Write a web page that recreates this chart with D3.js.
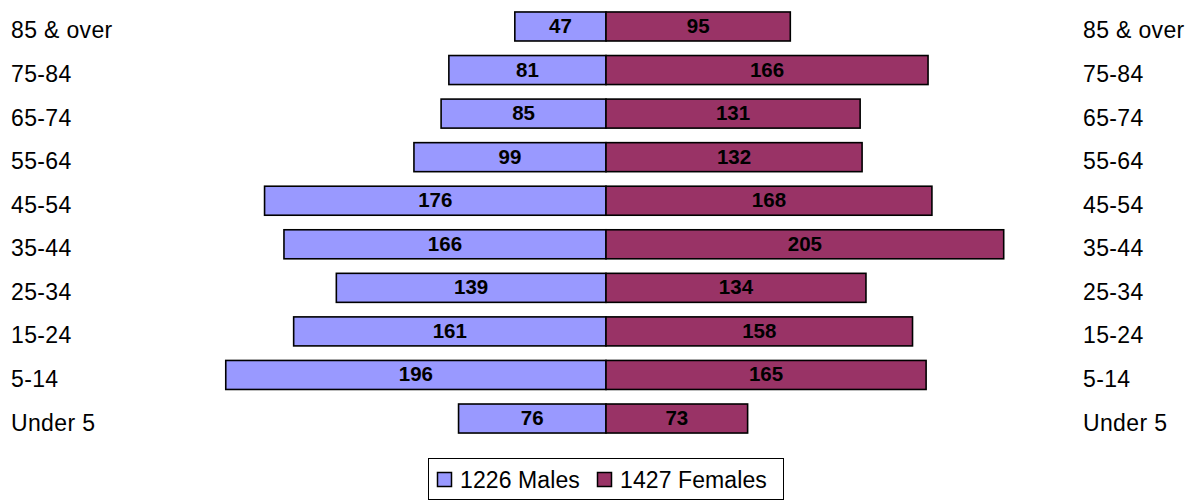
<!DOCTYPE html>
<html>
<head>
<meta charset="utf-8">
<script src="https://cdn.jsdelivr.net/npm/d3@7"></script>
<style>
  body { margin: 0; background: #fff; }
  svg { display: block; font-family: "Liberation Sans", Arial, sans-serif; }
</style>
</head>
<body>
<div id="chart"></div>
<script>

// age groups, top to bottom
var ageGroups = ["85 & over", "75-84", "65-74", "55-64", "45-54", "35-44", "25-34", "15-24", "5-14", "Under 5"]
var males = [47, 81, 85, 99, 176, 166, 139, 161, 196, 76]
var females = [95, 166, 131, 132, 168, 205, 134, 158, 165, 73]
var legendLabels = ["1226 Males", "1427 Females"]

var maleColour = "#9999ff"
var femaleColour = "#993366"

var width = 1190
var height = 501

var svg = d3.select("#chart").append("svg")
    .attr("width", width)
    .attr("height", height)

var x = d3.scaleLinear()
    .domain([-200, 200])
    .range([606 - 388, 606 + 388])

var y = d3.scaleBand()
    .domain(ageGroups)
    .range([4.7, 440.3])
    .paddingInner(0.334)
    .paddingOuter(0.167)

var rows = ageGroups.map(function(d, i) {
    return { group: d, male: males[i], female: females[i] }
})

var bars = svg.append("g")

// male bars go left of zero
bars.selectAll("rect.male")
    .data(rows)
    .enter()
    .append("rect")
    .attr("class", "male")
    .attr("x", function(d) { return x(-d.male) })
    .attr("y", function(d) { return y(d.group) })
    .attr("width", function(d) { return x(0) - x(-d.male) })
    .attr("height", y.bandwidth())
    .style("fill", maleColour)
    .style("stroke", "#000")
    .style("stroke-width", "1.6")

bars.selectAll("rect.female")
    .data(rows)
    .enter()
    .append("rect")
    .attr("class", "female")
    .attr("x", x(0))
    .attr("y", function(d) { return y(d.group) })
    .attr("width", function(d) { return x(d.female) - x(0) })
    .attr("height", y.bandwidth())
    .style("fill", femaleColour)
    .style("stroke", "#000")
    .style("stroke-width", "1.6")

// value labels
bars.selectAll("text.mval")
    .data(rows)
    .enter()
    .append("text")
    .attr("x", function(d) { return (x(-d.male) + x(0)) / 2 })
    .attr("y", function(d) { return y(d.group) + y.bandwidth() / 2 + 6.5 })
    .attr("text-anchor", "middle")
    .style("font-size", "20.5px")
    .style("font-weight", "bold")
    .text(function(d) { return d.male })

bars.selectAll("text.fval")
    .data(rows)
    .enter()
    .append("text")
    .attr("x", function(d) { return (x(d.female) + x(0)) / 2 })
    .attr("y", function(d) { return y(d.group) + y.bandwidth() / 2 + 6.5 })
    .attr("text-anchor", "middle")
    .style("font-size", "20.5px")
    .style("font-weight", "bold")
    .text(function(d) { return d.female })

// category labels on both sides
var labels = svg.append("g")
    .style("font-size", "23px")
    .style("letter-spacing", "0.35px")

labels.selectAll("text.left")
    .data(ageGroups)
    .enter()
    .append("text")
    .attr("x", 11)
    .attr("y", function(d) { return y(d) + y.bandwidth() / 2 + 12 })
    .text(function(d) { return d })

labels.selectAll("text.right")
    .data(ageGroups)
    .enter()
    .append("text")
    .attr("x", 1083)
    .attr("y", function(d) { return y(d) + y.bandwidth() / 2 + 12 })
    .text(function(d) { return d })

// legend
var legend = svg.append("g")

legend.append("rect")
    .attr("x", 428.5)
    .attr("y", 458.5)
    .attr("width", 355)
    .attr("height", 41)
    .style("fill", "#fff")
    .style("stroke", "#000")
    .style("stroke-width", "1")

var legendItems = [
    { label: legendLabels[0], colour: maleColour, x: 437 },
    { label: legendLabels[1], colour: femaleColour, x: 597 }
]

legend.selectAll("rect.key")
    .data(legendItems)
    .enter()
    .append("rect")
    .attr("class", "key")
    .attr("x", function(d) { return d.x + 0.5 })
    .attr("y", 472.5)
    .attr("width", 14)
    .attr("height", 14)
    .style("fill", function(d) { return d.colour })
    .style("stroke", "#000")
    .style("stroke-width", "1.5")

legend.selectAll("text")
    .data(legendItems)
    .enter()
    .append("text")
    .attr("x", function(d) { return d.x + 23 })
    .attr("y", 488)
    .style("font-size", "23px")
    .style("letter-spacing", "0.1px")
    .text(function(d) { return d.label })

</script>
</body>
</html>
